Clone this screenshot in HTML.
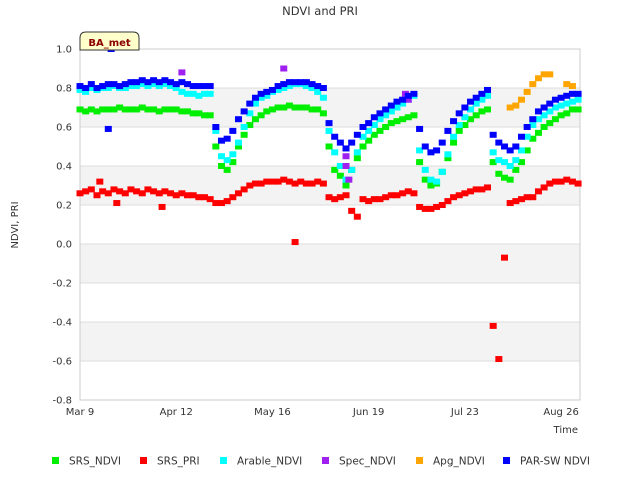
<!DOCTYPE html>
<html><head><meta charset="utf-8"><style>
body{margin:0;background:#fff;}
svg text{font-family:"DejaVu Sans","Liberation Sans",sans-serif;}
</style></head><body>
<svg id="chart" width="640" height="480" xmlns="http://www.w3.org/2000/svg">
<rect width="640" height="480" fill="#fff"/>
<text x="320" y="15" text-anchor="middle" font-size="11.5" fill="#333">NDVI and PRI</text>
<g id="bands"></g>
<g id="grid"></g>
<rect x="80" y="49" width="500" height="351" fill="none" stroke="#ccc"/>
<g id="marks"></g>
<g id="axes"></g>
<text transform="translate(18,225) rotate(-90)" text-anchor="middle" font-size="10" fill="#333">NDVI, PRI</text>
<text x="578" y="433" text-anchor="end" font-size="10" fill="#333">Time</text>
<g>
<path d="M80,50 L80,38 Q80,32 86,32 L133,32 Q139,32 139,38 L139,50 Z" fill="#ffffcc" stroke="#333"/>
<text x="109.5" y="46" text-anchor="middle" font-size="10" font-weight="bold" fill="#8b0000">BA_met</text>
</g>
<g id="legend"></g>
</svg>
<script>
const days = [];
for (let d = 0; d <= 176; d += 2) days.push(d);
const yTicks = [1.0,0.8,0.6,0.4,0.2,0.0,-0.2,-0.4,-0.6,-0.8];
const yTickLabels = ["1.0","0.8","0.6","0.4","0.2","0.0","-0.2","-0.4","-0.6","-0.8"];
const xTickDays = [0,34,68,102,136,170];
const xTickLabels = ["Mar 9","Apr 12","May 16","Jun 19","Jul 23","Aug 26"];
const parNdvi = [.81,.80,.82,.80,.81,.82,.82,.81,.82,.83, .83,.84,.83,.84,.83,.84,.83,.82,.83,.82, .81,.81,.81,.81,.60,.53,.54,.58,.64,.68,
 .72,.75,.77,.78,.79,.81,.82,.83,.83,.83, .83,.82,.81,.80,.62,.55,.52,.49,.52,.56, .60,.62,.65,.67,.69,.71,.73,.74,.76,.77,
 .59,.50,.47,.48,.52,.58,.63,.67,.70,.73, .75,.77,.79,.56,.52,.50,.48,.50,.55,.60, .64,.68,.70,.72,.74,.75,.76,.77,.77];
const arableNdvi = [.79,.78,.80,.79,.80,.80,.81,.80,.80,.81, .81,.82,.81,.82,.81,.82,.81,.80,.78,.77, .77,.76,.77,.77,.58,.45,.43,.46,.52,.60,
 .67,.72,.75,.76,.78,.79,.80,.81,.82,.82, .81,.80,.78,.75,.58,.47,.40,.33,.38,.47, .55,.58,.61,.64,.66,.68,.70,.72,.74,.76,
 .48,.38,.33,.32,.37,.46,.55,.61,.65,.69, .72,.74,.76,.47,.43,.42,.40,.43,.48,.55, .61,.64,.66,.68,.70,.71,.72,.73,.74];
const srsNdvi = [.69,.68,.69,.68,.69,.69,.69,.70,.69,.69, .69,.70,.69,.69,.68,.69,.69,.69,.68,.68, .67,.67,.66,.66,.50,.40,.38,.42,.50,.56,
 .61,.64,.66,.68,.69,.70,.70,.71,.70,.70, .70,.69,.69,.67,.50,.38,.35,.30,.38,.44, .50,.53,.56,.58,.60,.62,.63,.64,.65,.66,
 .42,.33,.30,.31,.37,.44,.52,.58,.61,.64, .66,.68,.69,.42,.36,.34,.33,.38,.42,.48, .54,.57,.60,.62,.64,.66,.67,.69,.69];
const srsPri = [.26,.27,.28,.25,.27,.26,.28,.27,.26,.28, .27,.26,.28,.27,.26,.27,.26,.25,.26,.25, .25,.24,.24,.23,.21,.21,.22,.24,.26,.28,
 .30,.31,.31,.32,.32,.32,.33,.32,.31,.32, .31,.31,.32,.31,.24,.23,.24,.25,.17,.14, .23,.22,.23,.23,.24,.25,.25,.26,.27,.26,
 .19,.18,.18,.19,.20,.22,.24,.25,.26,.27, .28,.28,.29,-.42,-.59,-.07,.21,.22,.23,.24, .24,.27,.29,.31,.32,.32,.33,.32,.31];
const apgNdvi = [];
for (let i = 0; i < 76; i++) apgNdvi.push(null);
apgNdvi.push(.70,.71,.74,.78,.82,.85,.87,.87,null,null,.82,.81,null);
const specDays = [36,72,94,94,95,115,116];
const specNdvi = [.88,.90,.45,.40,.33,.77,.74];
const parOutDays = [10,11];
const parOutVals = [.59,1.0];
const priOutDays = [7,13,29,76];
const priOutVals = [.32,.21,.19,.01];

const X0 = 80, PXD = 2.83;
const xs = d => X0 + d * PXD;
const ys = v => 244 - v * 195;
const NS = "http://www.w3.org/2000/svg";
function mk(tag, parent, attrs){const e=document.createElementNS(NS,tag);for(const k in attrs)e.setAttribute(k,attrs[k]);parent.appendChild(e);return e;}

const bands = document.getElementById('bands');
[[0.8,0.6],[0.4,0.2],[0.0,-0.2],[-0.4,-0.6]].forEach(b=>{
  const r = mk('rect', bands, {x:80,y:ys(b[0]),width:500,height:ys(b[1])-ys(b[0]),fill:'#f3f3f3'});
  
  
});
const grid = document.getElementById('grid');
const axes = document.getElementById('axes');
yTicks.forEach((v,i)=>{
  const l = mk('line', grid, {x1:80,x2:580,y1:ys(v),y2:ys(v),stroke:'#ddd'});
  
  
  const t = mk('text', axes, {x:72,y:ys(v)+3.5,'text-anchor':'end','font-size':10,fill:'#333'});
  t.textContent = yTickLabels[i];
  
  
});
xTickDays.forEach((d,i)=>{
  const t = mk('text', axes, {x:xs(d),y:415,'text-anchor':'middle','font-size':10,fill:'#333'});
  t.textContent = xTickLabels[i];
  
  
});

const marks = document.getElementById('marks');
function series(dArr, vArr, color, name){
  const g = mk('g', marks, {fill:color});
  
  
  vArr.forEach((v,i)=>{
    if (v === null || v === undefined) return;
    const r = mk('rect', g, {x:xs(dArr[i])-3.5,y:ys(v)-3,width:7,height:6});
    
    
  });
}
series(days, srsNdvi, '#00ee00', 'srs-ndvi-series');
series(days, srsPri, '#ff0000', 'srs-pri-series');
series(priOutDays, priOutVals, '#ff0000', 'srs-pri-outliers');
series(days, arableNdvi, '#00ffff', 'arable-ndvi-series');
series(specDays, specNdvi, '#a020f0', 'spec-ndvi-series');
series(days, apgNdvi, '#ffa500', 'apg-ndvi-series');
series(days, parNdvi, '#0000ff', 'par-sw-ndvi-series');
series(parOutDays, parOutVals, '#0000ff', 'par-sw-ndvi-outliers');

const legend = document.getElementById('legend');
const legItems = [["SRS_NDVI","#00ee00",52],["SRS_PRI","#ff0000",140],["Arable_NDVI","#00ffff",220],["Spec_NDVI","#a020f0",322],["Apg_NDVI","#ffa500",416],["PAR-SW NDVI","#0000ff",503]];
legItems.forEach(it=>{
  const g = mk('g', legend, {});
  
  
  mk('rect', g, {x:it[2],y:457,width:7,height:7,fill:it[1]});
  const t = mk('text', g, {x:it[2]+17,y:464.5,'font-size':10.5,fill:'#333'});
  t.textContent = it[0];
});
</script>
</body></html>
